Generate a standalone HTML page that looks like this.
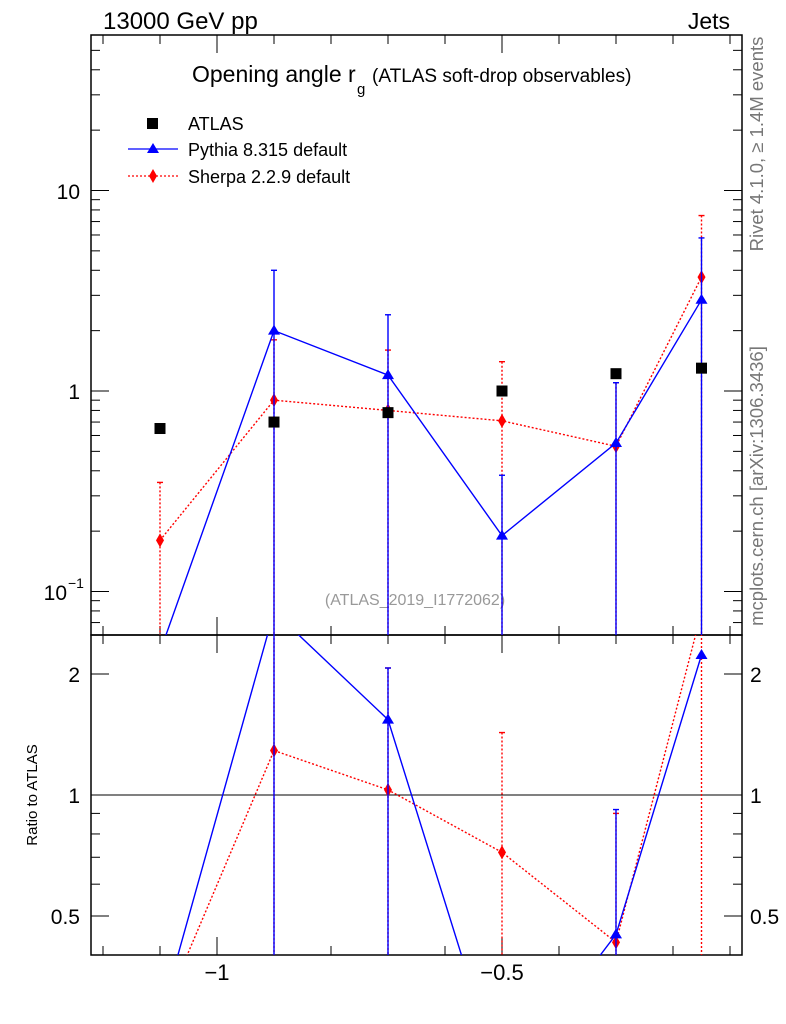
<!DOCTYPE html>
<html><head><meta charset="utf-8"><style>
body{margin:0;background:#fff;overflow:hidden;}
svg{display:block;font-family:"Liberation Sans",sans-serif;}
</style></head><body>
<svg id="c" width="786" height="1024"></svg>
<script>
const xs=[-1.1,-0.9,-0.7,-0.5,-0.3,-0.15];
const atlas=[0.65,0.70,0.78,1.0,1.22,1.3];
const pythia=[0.05,2.0,1.2,0.19,0.55,2.85];
const pythiaUp=[0.05,4.0,2.4,0.38,1.1,5.8];
const sherpa=[0.18,0.9,0.8,0.71,0.53,3.7];
const sherpaUp=[0.35,1.8,1.6,1.4,1.1,7.5];
const pythiaRatio=[0.277,2.86,1.54,0.19,0.45,2.23];
const pythiaRatioUp=[0.277,5.0,2.07,0.19,0.92,2.23];
const sherpaRatio=[0.277,1.29,1.03,0.72,0.43,2.85];
const sherpaRatioUp=[0.277,5.0,2.07,1.43,0.9,5.0];
const xTicks=[-1,-0.5];
const xTickLabels=["\u22121","\u22120.5"];
const NS="http://www.w3.org/2000/svg";
const svg=document.getElementById('c');
const L=91,R=742,T=35,M=635,B=955;
const X=v=>217+(v+1)*570;
const Y=v=>391-200.5*Math.log10(v);
const YR=r=>795-121*Math.log2(r);
function mk(t,a,p){const e=document.createElementNS(NS,t);for(const k in a)e.setAttribute(k,a[k]);(p||svg).appendChild(e);return e;}
function txt(s,x,y,sz,anch,fill){const e=mk('text',{x:x,y:y,'font-size':sz,'text-anchor':anch||'start',fill:fill||'#000'});e.textContent=s;return e;}
const defs=mk('defs',{});
mk('clipPath',{id:'cm'},defs);mk('rect',{x:L,y:T,width:R-L,height:M-T},defs.lastChild);
mk('clipPath',{id:'cr'},defs);mk('rect',{x:L,y:M,width:R-L,height:B-M},defs.lastChild);
const fm=mk('rect',{x:L,y:T,width:R-L,height:M-T,fill:'none',stroke:'#000','stroke-width':1.5});

const fr=mk('rect',{x:L,y:M,width:R-L,height:B-M,fill:'none',stroke:'#000','stroke-width':1.5});

for(let v=-1.2;v<=-0.05;v+=0.1){const x=X(v);const maj=xTicks.some(t=>Math.abs(t-v)<1e-6);const l=maj?18:9;
 mk('line',{x1:x,x2:x,y1:B,y2:B-l,stroke:'#000'});mk('line',{x1:x,x2:x,y1:M,y2:M-l,stroke:'#000'});
 mk('line',{x1:x,x2:x,y1:M,y2:M+l,stroke:'#000'});mk('line',{x1:x,x2:x,y1:T,y2:T+l,stroke:'#000'});}
xTicks.forEach((v,i)=>{const t=txt(xTickLabels[i],X(v),980,22,'middle');});
for(let d=-2;d<=1;d++)for(let k=1;k<10;k++){const v=k*Math.pow(10,d);const y=Y(v);if(y<T||y>M)continue;const l=k==1?18:9;
 mk('line',{x1:L,x2:L+l,y1:y,y2:y,stroke:'#000'});mk('line',{x1:R,x2:R-l,y1:y,y2:y,stroke:'#000'});}
txt('10',80,199,21,'end');txt('1',80,399,21,'end');
txt('10',67,600,21,'end');const sup=mk('text',{x:68,y:588,'font-size':14});sup.textContent='\u22121';
[0.5,0.6,0.7,0.8,0.9,1,2].forEach(v=>{const y=YR(v);const l=(v==0.5||v==1||v==2)?18:9;
 mk('line',{x1:L,x2:L+l,y1:y,y2:y,stroke:'#000'});mk('line',{x1:R,x2:R-l,y1:y,y2:y,stroke:'#000'});});
[[2,'2'],[1,'1'],[0.5,'0.5']].forEach(a=>{txt(a[1],80,YR(a[0])+8,21,'end');txt(a[1],750,YR(a[0])+8,21,'start');});
mk('line',{x1:L,x2:R,y1:YR(1),y2:YR(1),stroke:'#000'});
const yt=txt('Ratio to ATLAS',0,0,15,'middle');yt.setAttribute('transform','translate(37,795) rotate(-90)');

txt('13000 GeV pp',103,29,24);txt('Jets',730,29,23,'end');
txt('Opening angle r',192,82,23);txt('g',357,94,15);txt('(ATLAS soft-drop observables)',372,82,19);
txt('(ATLAS_2019_I1772062)',415,605,16,'middle','#999');
const r1=txt('Rivet 4.1.0, \u2265 1.4M events',0,0,18.5,'middle','#777');r1.setAttribute('transform','translate(763,144) rotate(-90)');
const r2=txt('mcplots.cern.ch [arXiv:1306.3436]',0,0,18.5,'middle','#777');r2.setAttribute('transform','translate(763,486) rotate(-90)');
mk('rect',{x:147,y:118,width:11,height:11,fill:'#000'});txt('ATLAS',188,130,18);
mk('line',{x1:128,x2:178,y1:149,y2:149,stroke:'#00f','stroke-width':1.3});mk('polygon',{points:'153,143 147,153 159,153',fill:'#00f'});txt('Pythia 8.315 default',188,156,18);
mk('line',{x1:128,x2:178,y1:176,y2:176,stroke:'#f00','stroke-dasharray':'2,2','stroke-width':1.3});mk('polygon',{points:'153,169 157,176 153,183 149,176',fill:'#f00'});txt('Sherpa 2.2.9 default',188,183,18);
function series(vals,up,color,dash,marker,clip,fy,name){
 const g=mk('g',{'clip-path':'url(#'+clip+')'});
 const bot=clip=='cm'?M+5:B+5;
 xs.forEach((x,i)=>{const px=X(x),uy=fy(up[i]);if(up[i]<=vals[i])return;
  mk('line',{x1:px,x2:px,y1:uy,y2:bot,stroke:color,'stroke-width':1.4,'stroke-dasharray':dash||'none'},g);
  mk('line',{x1:px-3,x2:px+3,y1:uy,y2:uy,stroke:color,'stroke-width':1.4},g);});
 mk('polyline',{points:xs.map((x,i)=>X(x)+','+fy(vals[i])).join(' '),fill:'none',stroke:color,'stroke-width':1.4,'stroke-dasharray':dash||'none'},g);
 xs.forEach((x,i)=>{const px=X(x),py=fy(vals[i]);
  if(marker=='tri')mk('polygon',{points:`${px},${py-6} ${px-6},${py+4} ${px+6},${py+4}`,fill:color},g);
  else mk('polygon',{points:`${px},${py-7} ${px+4},${py} ${px},${py+7} ${px-4},${py}`,fill:color},g);});
}
series(sherpa,sherpaUp,'#f00','2,2','dia','cm',Y,'sherpa-series');
series(pythia,pythiaUp,'#00f',null,'tri','cm',Y,'pythia-series');
const ga=mk('g',{'clip-path':'url(#cm)'});
xs.forEach((x,i)=>mk('rect',{x:X(x)-5.5,y:Y(atlas[i])-5.5,width:11,height:11,fill:'#000'},ga));
series(sherpaRatio,sherpaRatioUp,'#f00','2,2','dia','cr',YR,'sherpa-ratio');
series(pythiaRatio,pythiaRatioUp,'#00f',null,'tri','cr',YR,'pythia-ratio');
</script>
</body></html>
